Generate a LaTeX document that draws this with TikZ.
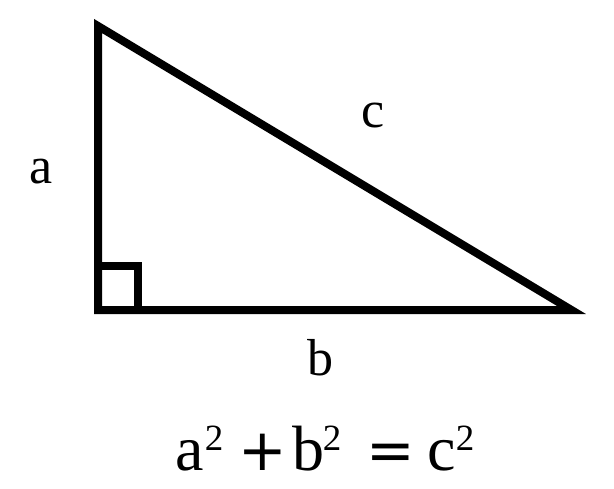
\documentclass[tikz,border=0pt]{standalone}
\usepackage{fontspec}
\setmainfont{Liberation Serif}
\newfontfamily\symfont{DejaVu Sans}
\tikzset{
  edge/.style={line width=8pt, line join=miter, miter limit=10},
  lbl/.style={anchor=base, inner sep=0pt, font=\fontsize{52}{52}\selectfont},
  eqn/.style={anchor=base, inner sep=0pt, font=\fontsize{64}{64}\selectfont},
  sup/.style={anchor=base, inner sep=0pt, font=\fontsize{37}{37}\selectfont},
  op/.style={anchor=base, inner sep=0pt, font=\symfont\fontsize{58}{58}\selectfont}
}
\begin{document}
\begin{tikzpicture}[x=1pt,y=-1pt]
\useasboundingbox (0,0) rectangle (614,488);
\coordinate (A) at (98,26);
\coordinate (B) at (98,310);
\coordinate (C) at (571.5,310);
\draw[edge] (A) -- (B) -- (C) -- cycle;
\coordinate (S1) at (98,266);
\coordinate (S2) at (138,266);
\coordinate (S3) at (138,310);
\draw[edge] (S1) -- (S2) -- (S3);
\node[lbl] (la) at (41,183) {a};
\node[lbl] (lc) at (373,127) {c};
\node[lbl] (lb) at (320,375) {b};
\node[eqn] (ea) at (190,470) {a};
\node[sup] (ea2) at (214,450) {2};
\node[op] (plus) at (263,470) {+};
\node[eqn] (eb) at (308,470) {b};
\node[sup] (eb2) at (332,450) {2};
\node[op] (eq) at (391,470) {=};
\node[eqn] (ec) at (442,470) {c};
\node[sup] (ec2) at (465,450) {2};
\end{tikzpicture}
\end{document}
